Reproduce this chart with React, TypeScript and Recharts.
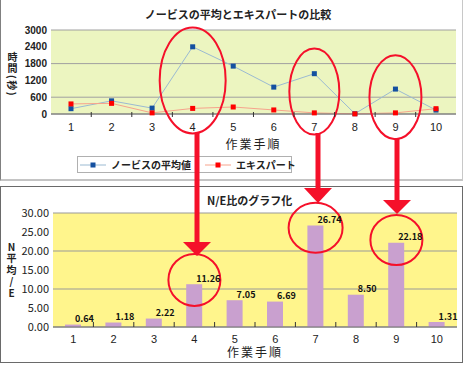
import {
  LineChart,
  Line,
  BarChart,
  Bar,
  XAxis,
  YAxis,
  CartesianGrid,
  ReferenceDot,
  LabelList,
} from 'recharts';

const STEPS = ['1', '2', '3', '4', '5', '6', '7', '8', '9', '10'];
const NOVICE = [190, 470, 210, 2400, 1710, 960, 1440, 10, 890, 140];
const EXPERT = [360, 380, 40, 200, 250, 145, 40, 5, 40, 190];
const RATIO = [0.64, 1.18, 2.22, 11.26, 7.05, 6.69, 26.74, 8.5, 22.18, 1.31];
const TIME_TICKS = [0, 600, 1200, 1800, 2400, 3000];
const RATIO_TICKS = [0, 5, 10, 15, 20, 25, 30];
const SERIES = [
  { key: 'novice', name: 'ノービスの平均値', line: '#9bbad2', mark: '#1450a0' },
  { key: 'expert', name: 'エキスパート', line: '#f7a38c', mark: '#ff0000' },
];

const lineData = STEPS.map((step, i) => ({ step, novice: NOVICE[i], expert: EXPERT[i] }));
const barData = STEPS.map((step, i) => ({ step, ratio: RATIO[i] }));

const JP = '"Noto Sans CJK JP", sans-serif';
const NUM = '"Liberation Sans", Arial, sans-serif';
const RED = '#f5102a';

// category labels + Excel-style tick marks between categories
const makeTick = (band: number, textDy: number, markTop: number, markBottom: number) => (props: any) => {
  const { x, y, payload, index } = props;
  return (
    <g>
      <text x={x} y={y + textDy} textAnchor="middle" dominantBaseline="central" fontSize={11} fill="#222" fontFamily={NUM}>
        {payload.value}
      </text>
      {index < STEPS.length - 1 && (
        <line x1={x + band / 2} x2={x + band / 2} y1={y + markTop} y2={y + markBottom} stroke="#333" />
      )}
    </g>
  );
};

const squareDot = (fill: string) => (props: any) => {
  const { cx, cy, index } = props;
  return <rect key={`d-${index}`} x={cx - 2.5} y={cy - 2.5} width={5} height={5} fill={fill} />;
};

const ellipse = (rx: number, ry: number) => (props: any) => (
  <ellipse cx={props.cx} cy={props.cy} rx={rx} ry={ry} fill="none" stroke={RED} strokeWidth={2} />
);

const RatioLabel = (props: any) => {
  const { x, y, width, value } = props;
  return (
    <text x={x + width / 2 + 2} y={y - 6} fontSize={9} fontWeight="bold" fill="#111" fontFamily={JP} dominantBaseline="central">
      {Number(value).toFixed(2)}
    </text>
  );
};

// vertical axis titles (tategaki)
const vTitle: any = {
  position: 'absolute',
  writingMode: 'vertical-rl',
  textOrientation: 'upright',
  fontFamily: JP,
  fontWeight: 'bold',
  fontSize: 10,
  letterSpacing: 1.5,
  color: '#222',
  lineHeight: '12px',
  whiteSpace: 'nowrap',
};

export default function App() {
  return (
    <div style={{ position: 'absolute', left: 0, top: 0, width: 463, height: 366, background: '#fff', fontFamily: JP }}>
      {/* panel frames */}
      <div style={{ position: 'absolute', left: 0, top: 0, width: 463, height: 181, boxSizing: 'border-box', borderLeft: '1px solid #808080', borderRight: '1px solid #c8c8c8', borderBottom: '2px solid #c4c4c4' }} />
      <div style={{ position: 'absolute', left: 0, top: 186, width: 463, height: 177, boxSizing: 'border-box', border: '1px solid #6a6a6a' }} />

      {/* top: line chart */}
      <div style={{ position: 'absolute', left: 0, top: 0 }}>
        <div style={{ position: 'absolute', left: 0, top: 6, width: 476, textAlign: 'center', fontSize: 11, fontWeight: 'bold', color: '#222' }}>
          ノービスの平均とエキスパートの比較
        </div>
        <div style={{ ...vTitle, left: 6, top: 52 }}>
          時間<span style={{ textOrientation: 'sideways' }}>(秒)</span>
        </div>
        <LineChart width={463} height={180} data={lineData} margin={{ top: 30, right: 7, left: 0, bottom: 26 }}>
          <CartesianGrid vertical={false} stroke="#a0a0a0" fill="#ecf5c0" />
          <XAxis
            dataKey="step"
            height={40}
            tickSize={0}
            tickMargin={0}
            padding={{ left: 20, right: 20 }}
            stroke="#707070"
            tick={makeTick(40.5, 13, -2, 3)}
            label={{ value: '作業手順', position: 'insideBottom', offset: 5, fontSize: 12, fill: '#222', fontFamily: JP, letterSpacing: 2 }}
          />
          <YAxis
            width={51}
            domain={[0, 3000]}
            ticks={TIME_TICKS}
            axisLine={false}
            tickLine={false}
            tickSize={0}
            tickMargin={4}
            tick={{ fontSize: 10, fill: '#222', fontFamily: NUM, fontWeight: 'bold' }}
          />
          {SERIES.map((s) => (
            <Line
              key={s.key}
              dataKey={s.key}
              name={s.name}
              type="linear"
              stroke={s.line}
              strokeWidth={1}
              dot={squareDot(s.mark)}
              activeDot={false}
              isAnimationActive={false}
            />
          ))}
          <ReferenceDot x="4" y={1200} ifOverflow="visible" shape={ellipse(33, 53)} />
          <ReferenceDot x="7" y={800} ifOverflow="visible" shape={ellipse(25, 43)} />
          <ReferenceDot x="9" y={600} ifOverflow="visible" shape={ellipse(26, 42)} />
        </LineChart>
        {/* legend */}
        <div style={{ position: 'absolute', left: 77, top: 156, width: 215, height: 17, boxSizing: 'border-box', border: '1px solid #b0b0b0', background: '#fff', display: 'flex', alignItems: 'center', fontSize: 10, fontWeight: 'bold', color: '#222' }}>
          {SERIES.map((s, i) => (
            <div key={s.key} style={{ display: 'flex', alignItems: 'center', marginLeft: i === 0 ? 2 : 14 }}>
              <svg width={26} height={8}>
                <line x1={0} x2={26} y1={4} y2={4} stroke={s.line} />
                <rect x={10.5} y={1.5} width={5} height={5} fill={s.mark} />
              </svg>
              <span style={{ marginLeft: 5, whiteSpace: 'nowrap' }}>{s.name}</span>
            </div>
          ))}
        </div>
      </div>

      {/* bottom: bar chart */}
      <div style={{ position: 'absolute', left: 0, top: 186 }}>
        <div style={{ position: 'absolute', left: 207, top: 6, fontSize: 11, fontWeight: 'bold', color: '#222', whiteSpace: 'nowrap' }}>
          N/E比のグラフ化
        </div>
        <div style={{ ...vTitle, left: 5, top: 56 }}>N平均/E</div>
        <BarChart width={463} height={176} data={barData} margin={{ top: 27, right: 6, left: 0, bottom: 1 }}>
          <CartesianGrid vertical={false} stroke="#999" fill="#fff58c" />
          <XAxis
            dataKey="step"
            height={34}
            tickSize={0}
            tickMargin={0}
            stroke="#707070"
            tick={makeTick(40.4, 11.5, -5, 0)}
            label={{ value: '作業手順', position: 'insideBottom', offset: 4, fontSize: 12, fill: '#222', fontFamily: JP, letterSpacing: 2 }}
          />
          <YAxis
            width={53}
            domain={[0, 30]}
            ticks={RATIO_TICKS}
            axisLine={false}
            tickLine={false}
            tickSize={0}
            tickMargin={4}
            tickFormatter={(v: number) => v.toFixed(2)}
            tick={{ fontSize: 11, fill: '#222', fontFamily: JP }}
          />
          <Bar dataKey="ratio" barSize={16} fill="#c9a0cf" isAnimationActive={false}>
            <LabelList dataKey="ratio" content={RatioLabel} />
          </Bar>
          <ReferenceDot x="4" y={12.4} ifOverflow="visible" shape={ellipse(26, 26)} />
          <ReferenceDot x="7" y={26.1} ifOverflow="visible" shape={ellipse(27, 25)} />
          <ReferenceDot x="9" y={22.9} ifOverflow="visible" shape={ellipse(26, 25)} />
        </BarChart>
      </div>

      {/* arrows linking the two charts */}
      <svg width={463} height={366} style={{ position: 'absolute', left: 0, top: 0, pointerEvents: 'none' }}>
        <g fill={RED}>
          <rect x={194.5} y={133} width={5} height={110} />
          <polygon points="183,242 211,242 197,256" />
          <rect x={315.5} y={133} width={5} height={56} />
          <polygon points="304,188 332,188 318,203" />
          <rect x={394.5} y={138} width={5} height={63} />
          <polygon points="383,200 411,200 397,214" />
        </g>
      </svg>
    </div>
  );
}
